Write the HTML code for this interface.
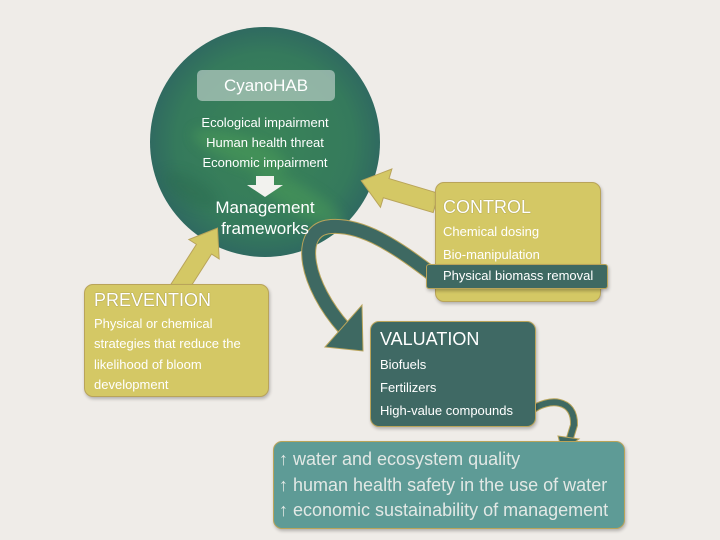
<!DOCTYPE html>
<html><head><meta charset="utf-8"><style>
body{margin:0;width:720px;height:540px;background:#efece8;position:relative;overflow:hidden;font-family:"Liberation Sans",sans-serif}
.t{position:absolute;white-space:nowrap}
.box{position:absolute;border-radius:9px;border:1px solid #b9a45a;box-shadow:1px 2px 3px rgba(0,0,0,.25)}
</style></head><body>
<svg width="720" height="540" style="position:absolute;left:0;top:0">
<defs>
<radialGradient id="g" cx="50%" cy="50%" r="55%">
<stop offset="0" stop-color="#3a8458"/><stop offset="0.7" stop-color="#357a5c"/><stop offset="1" stop-color="#2d6362"/>
</radialGradient>
<filter id="b"><feGaussianBlur stdDeviation="6"/></filter>
<clipPath id="c"><circle cx="265" cy="142" r="115"/></clipPath>
</defs>
<circle cx="265" cy="142" r="115" fill="url(#g)"/>
<g filter="url(#b)" opacity="0.45" clip-path="url(#c)">
<ellipse cx="240" cy="150" rx="50" ry="14" fill="#4fa258" transform="rotate(20 240 150)"/>
<ellipse cx="300" cy="200" rx="50" ry="14" fill="#4fa258" transform="rotate(30 300 200)"/>
<ellipse cx="190" cy="190" rx="30" ry="12" fill="#2a6a50" transform="rotate(30 190 190)"/>
</g>
<!-- control arrow -->
<g transform="translate(436,203) rotate(196.6)">
<polygon points="0,-10 52,-10 52,-20 78,0 52,20 52,10 0,10" fill="#d4c865" stroke="#b9a45a" stroke-width="1"/>
</g>
<!-- prevention arrow -->
<g transform="translate(176,293) rotate(-57.4)">
<polygon points="0,-9 52,-9 52,-18 77,0 52,18 52,9 0,9" fill="#d4c865" stroke="#b9a45a" stroke-width="1"/>
</g>
<!-- big curved arrow -->
<path d="M432,274 C400,250 362,222 327,227 C296,233 306,285 344,328" fill="none" stroke="#b9a45a" stroke-width="15"/>
<path d="M432,274 C400,250 362,222 327,227 C296,233 306,285 344,328" fill="none" stroke="#3e6962" stroke-width="13"/>
<polygon points="325,347 362,305 363,351" fill="#3e6962" stroke="#b9a45a" stroke-width="1"/>
<!-- small curved arrow -->
<path d="M532,410 C548,398 575,398 574,425 L570,438" fill="none" stroke="#b9a45a" stroke-width="8"/>
<path d="M532,410 C548,398 575,398 574,425 L570,438" fill="none" stroke="#3e6962" stroke-width="6"/>
<polygon points="558,436 579,439 562,451" fill="#3e6962" stroke="#b9a45a" stroke-width="1"/>
<!-- down arrow -->
<polygon points="256,176 274,176 274,185 283,185 265,197 247,185 256,185" fill="#f2f2ee"/>
</svg>
<div style="position:absolute;left:197px;top:70px;width:138px;height:31px;border-radius:5px;background:rgba(220,228,226,.55)"></div>
<div class="t" style="left:197px;width:138px;top:76px;text-align:center;color:#fff;font-size:17px">CyanoHAB</div>
<div class="t" style="left:165px;width:200px;top:113px;text-align:center;color:#fff;font-size:13px;line-height:20px">Ecological impairment<br>Human health threat<br>Economic impairment</div>
<div class="t" style="left:165px;width:200px;top:197px;text-align:center;color:#fff;font-size:17px;line-height:21px">Management<br>frameworks</div>

<div class="box" style="left:435px;top:182px;width:164px;height:118px;background:#d4c865"></div>
<div class="t" style="left:443px;top:197px;color:#fff;font-size:18px;text-shadow:0 0 1px #7a7030">CONTROL</div>
<div class="t" style="left:443px;top:224px;color:#fff;font-size:13px">Chemical dosing</div>
<div class="t" style="left:443px;top:247px;color:#fff;font-size:13px">Bio-manipulation</div>
<div class="box" style="left:426px;top:264px;width:180px;height:23px;border-radius:3px;background:#3e6962"></div>
<div class="t" style="left:443px;top:268px;color:#fff;font-size:13px">Physical biomass removal</div>

<div class="box" style="left:84px;top:284px;width:183px;height:111px;background:#d4c865"></div>
<div class="t" style="left:94px;top:290px;color:#fff;font-size:18px;text-shadow:0 0 1px #7a7030">PREVENTION</div>
<div class="t" style="left:94px;top:314px;color:#fff;font-size:13px;line-height:20.3px">Physical or chemical<br>strategies that reduce the<br>likelihood of bloom<br>development</div>

<div class="box" style="left:370px;top:321px;width:164px;height:104px;background:#3f6964"></div>
<div class="t" style="left:380px;top:329px;color:#fff;font-size:18px">VALUATION</div>
<div class="t" style="left:380px;top:357px;color:#fff;font-size:13px">Biofuels</div>
<div class="t" style="left:380px;top:380px;color:#fff;font-size:13px">Fertilizers</div>
<div class="t" style="left:380px;top:403px;color:#fff;font-size:13px">High-value compounds</div>

<div class="box" style="left:273px;top:441px;width:350px;height:86px;background:#5e9b96"></div>
<div class="t" style="left:279px;top:447px;color:#e2e8e5;font-size:18px;line-height:25.5px">↑ water and ecosystem quality<br>↑ human health safety in the use of water<br>↑ economic sustainability of management</div>
</body></html>
